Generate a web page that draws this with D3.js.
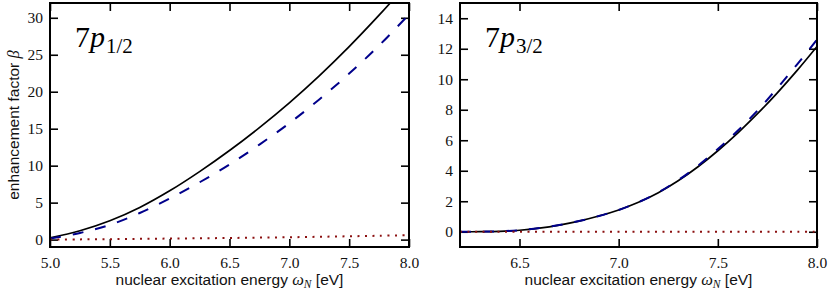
<!DOCTYPE html>
<html>
<head>
<meta charset="utf-8">
<script src="https://cdn.jsdelivr.net/npm/d3@7"></script>
<style>
  body { margin: 0; background: #fff; }
  svg { display: block; }
  .lbl { font-family: "Liberation Sans", Arial, sans-serif; font-size: 15.5px; fill: #111; }
</style>
</head>
<body>
<svg id="chart" width="831" height="296"></svg>
<script>
// ---- data ----
const xLeft = [5.0, 5.25, 5.5, 5.75, 6.0, 6.25, 6.5, 6.75, 7.0, 7.25, 7.5, 7.75, 8.0];
const leftSolid = [0.25, 1.2, 2.55, 4.35, 6.6, 9.2, 12.05, 15.15, 18.5, 22.15, 26.1, 30.35, 34.85];
const leftDashed = [0.15, 0.9, 2.0, 3.6, 5.55, 7.75, 10.15, 12.85, 15.75, 18.95, 22.45, 26.25, 30.45];
const leftDotted = [0.0, 0.03, 0.06, 0.1, 0.14, 0.18, 0.22, 0.27, 0.32, 0.38, 0.45, 0.52, 0.6];

const xRight = [6.2, 6.3, 6.4, 6.5, 6.6, 6.7, 6.8, 6.9, 7.0, 7.1, 7.2, 7.3, 7.4, 7.5, 7.6, 7.7, 7.8, 7.9, 8.0];
const rightSolid = [0, 0.005, 0.03, 0.1, 0.24, 0.44, 0.7, 1.03, 1.43, 1.93, 2.56, 3.34, 4.26, 5.31, 6.47, 7.74, 9.11, 10.58, 12.15];
const rightDashed = [0, 0.005, 0.03, 0.1, 0.24, 0.44, 0.7, 1.03, 1.43, 1.94, 2.58, 3.38, 4.33, 5.42, 6.62, 7.95, 9.42, 10.98, 12.6];
const rightDotted = [0, 0, 0, 0, 0, 0, 0, 0, 0, 0, 0, 0, 0, 0, 0, 0, 0, 0, 0];

const leftXTicks = [5.0, 5.5, 6.0, 6.5, 7.0, 7.5, 8.0];
const leftYTicks = [0, 5, 10, 15, 20, 25, 30];
const rightXTicks = [6.5, 7.0, 7.5, 8.0];
const rightYTicks = [0, 2, 4, 6, 8, 10, 12, 14];

const panels = [
  { id: "L", left: 50, right: 409, xDomain: [5.0, 8.0], yDomain: [-1, 32],
    xTicks: leftXTicks, yTicks: leftYTicks, x: xLeft,
    solid: leftSolid, dashed: leftDashed, dotted: leftDotted, sub: "1/2", ylabel: true },
  { id: "R", left: 460, right: 817, xDomain: [6.2, 8.0], yDomain: [-1, 15],
    xTicks: rightXTicks, yTicks: rightYTicks, x: xRight,
    solid: rightSolid, dashed: rightDashed, dotted: rightDotted, sub: "3/2", ylabel: false }
];

const plotTop = 3, plotBottom = 247, tickLen = 8;
const serif = "Liberation Serif, DejaVu Serif, serif";
const svg = d3.select("#chart");

panels.forEach(p => {
  const x = d3.scaleLinear().domain(p.xDomain).range([p.left, p.right]);
  const y = d3.scaleLinear().domain(p.yDomain).range([plotBottom, plotTop]);

  svg.append("clipPath").attr("id", "clip" + p.id)
    .append("rect").attr("x", p.left).attr("y", plotTop)
    .attr("width", p.right - p.left).attr("height", plotBottom - plotTop);

  const fmt = d3.format(".1f");
  const styleAxis = (g) => {
    g.select(".domain").remove();
    g.selectAll(".tick line").attr("stroke", "#000").attr("stroke-width", 1.6);
    g.selectAll(".tick text")
      .attr("fill", "#111")
      .style("font-family", serif)
      .style("font-size", "15.5px");
  };

  // bottom axis with labels, inward ticks
  svg.append("g").attr("transform", `translate(0,${plotBottom})`)
    .call(d3.axisBottom(x).tickValues(p.xTicks).tickFormat(fmt).tickSizeInner(-tickLen).tickSizeOuter(0).tickPadding(10))
    .call(styleAxis);
  // top axis, ticks only
  svg.append("g").attr("transform", `translate(0,${plotTop})`)
    .call(d3.axisTop(x).tickValues(p.xTicks).tickFormat("").tickSizeInner(-tickLen).tickSizeOuter(0))
    .call(styleAxis);
  // left axis with labels
  svg.append("g").attr("transform", `translate(${p.left},0)`)
    .call(d3.axisLeft(y).tickValues(p.yTicks).tickFormat(d3.format("d")).tickSizeInner(-tickLen).tickSizeOuter(0).tickPadding(7))
    .call(styleAxis);
  // right axis, ticks only
  svg.append("g").attr("transform", `translate(${p.right},0)`)
    .call(d3.axisRight(y).tickValues(p.yTicks).tickFormat("").tickSizeInner(-tickLen).tickSizeOuter(0))
    .call(styleAxis);

  const line = (vals) => d3.line()
    .x((d, i) => x(p.x[i]))
    .y(d => y(d))
    .curve(d3.curveCatmullRom)(vals);

  const plot = svg.append("g").attr("clip-path", `url(#clip${p.id})`);
  plot.append("path").attr("d", line(p.solid))
    .attr("fill", "none").attr("stroke", "#000").attr("stroke-width", 1.7);
  plot.append("path").attr("d", line(p.dashed))
    .attr("fill", "none").attr("stroke", "#00008b").attr("stroke-width", 2)
    .attr("stroke-dasharray", "11,12");
  plot.append("path").attr("d", line(p.dotted))
    .attr("fill", "none").attr("stroke", "#8b1010").attr("stroke-width", 2)
    .attr("stroke-dasharray", "2,5.5");

  // frame
  svg.append("rect").attr("x", p.left).attr("y", plotTop)
    .attr("width", p.right - p.left).attr("height", plotBottom - plotTop)
    .attr("fill", "none").attr("stroke", "#000").attr("stroke-width", 2);

  // panel title 7p_{j}
  const t = svg.append("text").attr("x", p.left + 25).attr("y", 47)
    .style("font-family", serif).attr("font-size", 30).attr("fill", "#000");
  t.append("tspan").text("7");
  t.append("tspan").attr("font-style", "italic").text("p");
  t.append("tspan").attr("font-size", 21).attr("dy", 6).attr("dx", 1).text(p.sub);

  // x label
  const xl = svg.append("text").attr("class", "lbl")
    .attr("x", (p.left + p.right) / 2).attr("y", 285).attr("text-anchor", "middle");
  xl.append("tspan").text("nuclear excitation energy ");
  xl.append("tspan").style("font-family", serif).attr("font-style", "italic").style("font-size", "16.5px").text("ω");
  xl.append("tspan").style("font-family", serif).attr("font-style", "italic").style("font-size", "11.5px").attr("dy", 3).text("N");
  xl.append("tspan").attr("dy", -3).text(" [eV]");

  if (p.ylabel) {
    const yl = svg.append("text").attr("class", "lbl")
      .attr("transform", `translate(19,${(plotTop + plotBottom) / 2}) rotate(-90)`)
      .attr("text-anchor", "middle");
    yl.append("tspan").text("enhancement factor ");
    yl.append("tspan").style("font-family", serif).attr("font-style", "italic").style("font-size", "16.5px").text("β");
  }
});
</script>
</body>
</html>
